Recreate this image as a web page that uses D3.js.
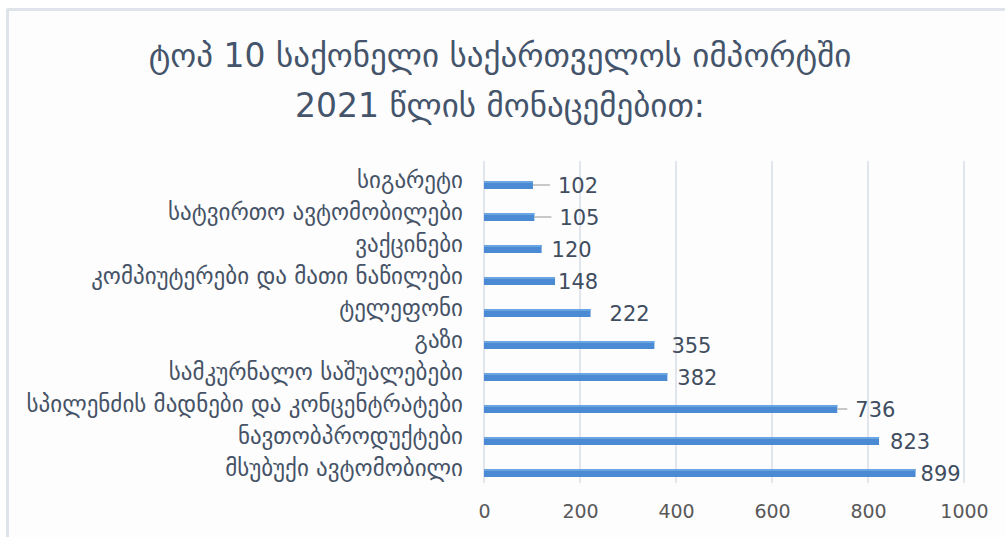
<!DOCTYPE html>
<html>
<head>
<meta charset="utf-8">
<script src="https://cdn.jsdelivr.net/npm/d3@7"></script>
<style>
  html, body { margin: 0; padding: 0; background: #ffffff; }
  svg { display: block; }
  text { font-family: "DejaVu Sans", "Noto Sans", sans-serif; }
</style>
</head>
<body>
<svg id="chart" width="1005" height="537"></svg>
<script>
// ---- data ----
const titleLines = ["ტოპ 10 საქონელი საქართველოს იმპორტში", "2021 წლის მონაცემებით:"];
const categories = [
  "სიგარეტი",
  "სატვირთო ავტომობილები",
  "ვაქცინები",
  "კომპიუტერები და მათი ნაწილები",
  "ტელეფონი",
  "გაზი",
  "სამკურნალო საშუალებები",
  "სპილენძის მადნები და კონცენტრატები",
  "ნავთობპროდუქტები",
  "მსუბუქი ავტომობილი"
];
const values = [102, 105, 120, 148, 222, 355, 382, 736, 823, 899];
const xTicks = [0, 200, 400, 600, 800, 1000];
// label displacement (px) as placed in the original, and which labels have leader lines
const labelShift = [25, 25, 10, 3, 19, 17, 10, 18, 11, 5];
const hasLeader = [true, true, false, false, false, false, false, true, false, false];

// ---- layout ----
const svg = d3.select("#chart");
const W = 1005, H = 537;
const plot = { left: 484, right: 964, top: 161, bottom: 483 };

// card
svg.append("rect").attr("x", 0).attr("y", 0).attr("width", W).attr("height", H).attr("fill", "#ffffff");
svg.append("rect").attr("x", 7).attr("y", 9).attr("width", W - 7).attr("height", H - 9)
  .attr("fill", "#fdfdfe");
svg.append("line").attr("x1", 7).attr("x2", W).attr("y1", 9.5).attr("y2", 9.5)
  .attr("stroke", "#dfe3ea").attr("stroke-width", 3);
svg.append("line").attr("x1", 7.5).attr("x2", 7.5).attr("y1", 9).attr("y2", H)
  .attr("stroke", "#dfe3ea").attr("stroke-width", 3);

// title
svg.append("g").selectAll("text").data(titleLines).join("text")
  .attr("x", 500).attr("y", (d, i) => 67 + i * 50)
  .attr("text-anchor", "middle")
  .attr("font-size", 33)
  .attr("fill", "#44546a")
  .text(d => d);

const x = d3.scaleLinear().domain([0, 1000]).range([plot.left, plot.right]);
const y = d3.scaleBand().domain(categories).range([169, 489]).paddingInner(0.75).paddingOuter(0.375);

// gridlines
svg.append("g").selectAll("line").data(xTicks.slice(1)).join("line")
  .attr("x1", d => x(d)).attr("x2", d => x(d))
  .attr("y1", plot.top).attr("y2", plot.bottom)
  .attr("stroke", "#d9dee6").attr("stroke-width", 1.5);

// x axis labels
const xAxis = d3.axisBottom(x).tickValues(xTicks).tickSize(0).tickPadding(0).tickFormat(d3.format("d"));
const gx = svg.append("g").attr("transform", `translate(0, ${plot.bottom + 21})`).call(xAxis);
gx.select(".domain").remove();
gx.selectAll("text").attr("font-size", 19).attr("fill", "#595959")
  .attr("font-family", "'Liberation Sans', 'DejaVu Sans', sans-serif");

// y axis line + labels
const yAxis = d3.axisLeft(y).tickSize(0).tickPadding(21);
const gy = svg.append("g").attr("transform", `translate(${plot.left}, 0)`).call(yAxis);
gy.select(".domain").attr("stroke", "#d9dee6").attr("stroke-width", 1.5)
  .attr("d", `M0,${plot.top}V${plot.bottom}`);
gy.selectAll("text").attr("font-size", 23).attr("fill", "#465366")
  .attr("font-family", "'DejaVu Sans', sans-serif").attr("dy", "0.15em");

// bars
const bh = 8;
svg.append("g").selectAll("rect").data(values).join("rect")
  .attr("x", x(0))
  .attr("y", (d, i) => y(categories[i]) + y.bandwidth() / 2 - bh / 2)
  .attr("width", d => x(d) - x(0))
  .attr("height", bh)
  .attr("fill", "#4a8bd3");
svg.append("g").selectAll("rect").data(values).join("rect")
  .attr("x", x(0))
  .attr("y", (d, i) => y(categories[i]) + y.bandwidth() / 2 - bh / 2)
  .attr("width", d => x(d) - x(0))
  .attr("height", 2)
  .attr("fill", "#6aa5e3");

// leader lines
svg.append("g").selectAll("line").data(values.map((v, i) => ({ v, i })).filter(d => hasLeader[d.i])).join("line")
  .attr("x1", d => x(d.v)).attr("x2", d => x(d.v) + labelShift[d.i] - 8)
  .attr("y1", d => y(categories[d.i]) + y.bandwidth() / 2)
  .attr("y2", d => y(categories[d.i]) + y.bandwidth() / 2)
  .attr("stroke", "#a6a6a6").attr("stroke-width", 1.2);

// value labels
svg.append("g").selectAll("text").data(values).join("text")
  .attr("x", (d, i) => x(d) + labelShift[i])
  .attr("y", (d, i) => y(categories[i]) + y.bandwidth() / 2 + 8)
  .attr("font-size", 21)
  .attr("fill", "#404d5e")
  .attr("font-family", "'Liberation Sans', 'DejaVu Sans', sans-serif")
  .text(d => d);
</script>
</body>
</html>
